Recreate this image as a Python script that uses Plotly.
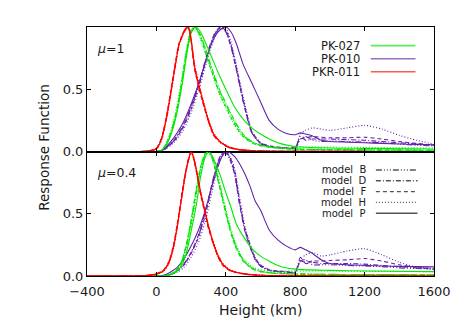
import plotly.graph_objects as go
from plotly.subplots import make_subplots

# ---- data: response functions vs height (km) ----
X_TICKS = [-400, 0, 400, 800, 1200, 1600]
X_TICKTEXT = ["\u2212400", "0", "400", "800", "1200", "1600"]
Y_TICKS = [0.0, 0.5]
Y_TICKTEXT = ["0.0", "0.5"]

MODELS = ["B", "D", "F", "H", "P"]
LINES = ["PK-027", "PK-010", "PKR-011"]

# mu = 1 (top panel)
h_top_red = [-400, -100, -50, 0, 30, 60, 90, 110, 130, 150, 170, 185, 200, 220, 245, 270, 300, 330, 370, 420, 480, 560, 700, 1000, 1600]
top_red_B = [0, 0, 0.004, 0.025, 0.11, 0.29, 0.54, 0.71, 0.86, 0.94, 0.99, 0.99, 0.89, 0.67, 0.52, 0.39, 0.24, 0.13, 0.07, 0.03, 0.013, 0.005, 0.002, 0.001, 0]
top_red_D = [0, 0, 0.003, 0.022, 0.105, 0.29, 0.53, 0.70, 0.85, 0.93, 0.98, 1.00, 0.90, 0.69, 0.53, 0.39, 0.25, 0.14, 0.075, 0.033, 0.014, 0.006, 0.002, 0.001, 0]
top_red_F = [0, 0, 0.004, 0.024, 0.11, 0.30, 0.55, 0.72, 0.87, 0.94, 0.99, 0.99, 0.88, 0.66, 0.51, 0.38, 0.24, 0.13, 0.07, 0.032, 0.013, 0.005, 0.002, 0.001, 0]
top_red_H = [0, 0, 0.002, 0.018, 0.09, 0.27, 0.51, 0.69, 0.85, 0.93, 0.99, 1.00, 0.91, 0.70, 0.55, 0.41, 0.26, 0.15, 0.08, 0.037, 0.016, 0.007, 0.003, 0.001, 0]
top_red_P = [0, 0, 0.003, 0.02, 0.10, 0.28, 0.53, 0.70, 0.86, 0.93, 0.99, 1.00, 0.90, 0.68, 0.53, 0.40, 0.25, 0.14, 0.075, 0.035, 0.015, 0.006, 0.002, 0.001, 0]

h_top_green = [-400, 0, 30, 60, 90, 120, 150, 175, 200, 225, 250, 275, 300, 330, 360, 400, 450, 500, 550, 600, 700, 800, 1000, 1200, 1600]
top_green_B = [0, 0, 0.008, 0.06, 0.17, 0.34, 0.58, 0.80, 0.96, 0.99, 0.94, 0.85, 0.74, 0.62, 0.50, 0.38, 0.24, 0.13, 0.08, 0.05, 0.03, 0.02, 0.016, 0.013, 0.01]
top_green_D = [0, 0, 0.009, 0.065, 0.175, 0.345, 0.59, 0.81, 0.97, 1.00, 0.95, 0.86, 0.75, 0.63, 0.51, 0.39, 0.25, 0.14, 0.08, 0.05, 0.028, 0.02, 0.016, 0.013, 0.01]
top_green_F = [0, 0, 0.01, 0.07, 0.18, 0.35, 0.60, 0.82, 0.97, 1.00, 0.93, 0.83, 0.72, 0.60, 0.48, 0.36, 0.22, 0.12, 0.07, 0.045, 0.025, 0.018, 0.015, 0.012, 0.01]
top_green_H = [0, 0, 0.012, 0.08, 0.20, 0.38, 0.62, 0.84, 0.98, 1.00, 0.92, 0.82, 0.71, 0.59, 0.47, 0.35, 0.21, 0.12, 0.075, 0.05, 0.035, 0.035, 0.035, 0.033, 0.03]
top_green_P = [0, 0, 0.01, 0.06, 0.16, 0.32, 0.55, 0.78, 0.95, 1.00, 0.97, 0.90, 0.82, 0.72, 0.62, 0.50, 0.36, 0.26, 0.19, 0.14, 0.07, 0.04, 0.028, 0.025, 0.02]

h_top_purple = [-400, 0, 25, 50, 100, 150, 200, 250, 300, 340, 370, 400, 430, 460, 500, 550, 600, 650, 700, 750, 800, 830, 860, 900, 950, 1000, 1100, 1200, 1300, 1400, 1500, 1600]
top_purple_B = [0, 0, 0.004, 0.024, 0.085, 0.19, 0.35, 0.56, 0.81, 0.95, 0.99, 0.97, 0.86, 0.67, 0.41, 0.15, 0.06, 0.04, 0.03, 0.025, 0.025, 0.10, 0.12, 0.09, 0.08, 0.085, 0.08, 0.075, 0.07, 0.06, 0.05, 0.045]
top_purple_D = [0, 0, 0.004, 0.025, 0.09, 0.20, 0.36, 0.57, 0.82, 0.96, 1.00, 0.96, 0.84, 0.66, 0.40, 0.15, 0.065, 0.04, 0.03, 0.025, 0.03, 0.12, 0.09, 0.10, 0.10, 0.10, 0.095, 0.09, 0.08, 0.07, 0.06, 0.05]
top_purple_F = [0, 0, 0.003, 0.02, 0.08, 0.18, 0.34, 0.55, 0.80, 0.95, 1.00, 0.97, 0.85, 0.68, 0.42, 0.16, 0.07, 0.045, 0.035, 0.03, 0.04, 0.10, 0.11, 0.12, 0.115, 0.11, 0.11, 0.115, 0.10, 0.08, 0.065, 0.05]
top_purple_H = [0, 0, 0.002, 0.015, 0.07, 0.16, 0.31, 0.52, 0.77, 0.93, 0.99, 0.99, 0.88, 0.70, 0.44, 0.17, 0.07, 0.045, 0.035, 0.03, 0.035, 0.14, 0.17, 0.19, 0.18, 0.17, 0.19, 0.21, 0.18, 0.13, 0.09, 0.06]
top_purple_P = [0, 0, 0.005, 0.03, 0.11, 0.22, 0.38, 0.57, 0.80, 0.93, 0.98, 1.00, 0.96, 0.87, 0.70, 0.55, 0.40, 0.25, 0.18, 0.145, 0.135, 0.15, 0.14, 0.125, 0.09, 0.08, 0.075, 0.07, 0.065, 0.06, 0.057, 0.054]

# mu = 0.4 (bottom panel)
h_bot_red = [-400, -100, -50, 0, 40, 70, 100, 125, 150, 170, 190, 200, 215, 235, 255, 275, 300, 325, 350, 380, 420, 460, 520, 600, 800, 1600]
bot_red_B = [0, 0.002, 0.006, 0.017, 0.045, 0.11, 0.25, 0.45, 0.68, 0.85, 0.96, 0.99, 0.94, 0.81, 0.66, 0.54, 0.39, 0.27, 0.17, 0.095, 0.047, 0.028, 0.014, 0.005, 0.001, 0]
bot_red_D = [0, 0.001, 0.005, 0.016, 0.042, 0.10, 0.24, 0.44, 0.67, 0.84, 0.96, 1.00, 0.95, 0.82, 0.67, 0.55, 0.40, 0.28, 0.18, 0.10, 0.05, 0.03, 0.015, 0.006, 0.001, 0]
bot_red_F = [0, 0.002, 0.006, 0.018, 0.046, 0.11, 0.26, 0.46, 0.69, 0.85, 0.97, 0.99, 0.94, 0.80, 0.65, 0.53, 0.38, 0.27, 0.17, 0.09, 0.045, 0.027, 0.013, 0.005, 0.001, 0]
bot_red_H = [0, 0.001, 0.004, 0.013, 0.037, 0.095, 0.23, 0.43, 0.66, 0.83, 0.95, 1.00, 0.96, 0.83, 0.68, 0.56, 0.41, 0.29, 0.19, 0.105, 0.053, 0.032, 0.016, 0.007, 0.002, 0]
bot_red_P = [0, 0, 0.005, 0.015, 0.04, 0.10, 0.24, 0.44, 0.67, 0.84, 0.96, 1.00, 0.95, 0.82, 0.67, 0.55, 0.40, 0.28, 0.18, 0.10, 0.05, 0.03, 0.015, 0.006, 0.001, 0]

h_bot_green = [-400, 0, 50, 80, 110, 140, 170, 200, 230, 255, 280, 300, 320, 345, 370, 400, 430, 460, 500, 550, 600, 650, 700, 800, 1000, 1200, 1600]
bot_green_B = [0, 0, 0, 0.012, 0.035, 0.09, 0.22, 0.42, 0.67, 0.86, 0.97, 1.00, 0.96, 0.84, 0.70, 0.52, 0.36, 0.24, 0.13, 0.065, 0.04, 0.028, 0.022, 0.016, 0.013, 0.012, 0.01]
bot_green_D = [0, 0, 0, 0.014, 0.038, 0.095, 0.23, 0.44, 0.69, 0.87, 0.98, 0.99, 0.95, 0.83, 0.69, 0.51, 0.35, 0.23, 0.125, 0.062, 0.037, 0.026, 0.021, 0.016, 0.013, 0.012, 0.01]
bot_green_F = [0, 0, 0, 0.015, 0.04, 0.10, 0.24, 0.45, 0.70, 0.88, 0.98, 1.00, 0.95, 0.82, 0.68, 0.50, 0.34, 0.22, 0.12, 0.06, 0.035, 0.025, 0.02, 0.015, 0.012, 0.012, 0.01]
bot_green_H = [0, 0, 0, 0.01, 0.03, 0.08, 0.20, 0.40, 0.64, 0.84, 0.96, 1.00, 0.97, 0.86, 0.72, 0.54, 0.38, 0.25, 0.14, 0.075, 0.05, 0.042, 0.04, 0.04, 0.04, 0.038, 0.035]
bot_green_P = [0, 0, 0, 0.01, 0.03, 0.07, 0.17, 0.36, 0.57, 0.80, 0.95, 1.00, 0.97, 0.89, 0.80, 0.67, 0.55, 0.42, 0.32, 0.22, 0.16, 0.12, 0.085, 0.055, 0.045, 0.04, 0.035]

h_bot_purple = [-400, 0, 40, 80, 120, 160, 200, 240, 280, 320, 350, 375, 400, 425, 450, 480, 510, 540, 570, 600, 650, 700, 750, 800, 830, 860, 900, 950, 1000, 1100, 1200, 1300, 1400, 1500, 1600]
bot_purple_B = [0, 0, 0.002, 0.011, 0.042, 0.095, 0.185, 0.31, 0.49, 0.73, 0.89, 0.97, 1.00, 0.94, 0.83, 0.58, 0.37, 0.24, 0.13, 0.08, 0.045, 0.035, 0.03, 0.025, 0.12, 0.13, 0.09, 0.09, 0.09, 0.085, 0.08, 0.075, 0.065, 0.06, 0.055]
bot_purple_D = [0, 0, 0.002, 0.012, 0.045, 0.10, 0.19, 0.32, 0.50, 0.74, 0.90, 0.98, 0.99, 0.93, 0.82, 0.57, 0.36, 0.23, 0.13, 0.08, 0.045, 0.035, 0.03, 0.03, 0.15, 0.10, 0.11, 0.10, 0.10, 0.10, 0.095, 0.085, 0.075, 0.065, 0.06]
bot_purple_F = [0, 0, 0, 0.01, 0.04, 0.09, 0.18, 0.30, 0.48, 0.72, 0.88, 0.97, 1.00, 0.95, 0.85, 0.60, 0.38, 0.25, 0.14, 0.09, 0.05, 0.04, 0.035, 0.03, 0.12, 0.11, 0.12, 0.12, 0.125, 0.13, 0.14, 0.12, 0.09, 0.07, 0.06]
bot_purple_H = [0, 0, 0, 0.008, 0.03, 0.07, 0.15, 0.26, 0.43, 0.67, 0.85, 0.96, 0.99, 0.96, 0.87, 0.63, 0.40, 0.26, 0.15, 0.09, 0.05, 0.04, 0.035, 0.035, 0.13, 0.17, 0.19, 0.16, 0.17, 0.20, 0.22, 0.17, 0.11, 0.07, 0.05]
bot_purple_P = [0, 0, 0.005, 0.03, 0.07, 0.14, 0.24, 0.36, 0.52, 0.72, 0.86, 0.95, 1.00, 0.99, 0.96, 0.90, 0.82, 0.72, 0.60, 0.53, 0.37, 0.29, 0.24, 0.21, 0.23, 0.21, 0.18, 0.13, 0.10, 0.09, 0.085, 0.08, 0.077, 0.075, 0.073]

# ---- styling ----
_GREEN = "#00e800"
_PURPLE = "#6222aa"
_RED = "#ff0000"
_TEXT = "#1a1a1a"
_FONT = "DejaVu Sans"

_DASH = {
    "B": "6px,2px,1px,2px,1px,2px,1px,2px",
    "D": "5px,2px,1px,2px",
    "F": "4px,3px",
    "H": "1px,2px",
    "P": "solid",
}

panels = [
    (1, [
        (_PURPLE, h_top_purple, [top_purple_B, top_purple_D, top_purple_F, top_purple_H, top_purple_P]),
        (_GREEN, h_top_green, [top_green_B, top_green_D, top_green_F, top_green_H, top_green_P]),
        (_RED, h_top_red, [top_red_B, top_red_D, top_red_F, top_red_H, top_red_P]),
    ]),
    (2, [
        (_PURPLE, h_bot_purple, [bot_purple_B, bot_purple_D, bot_purple_F, bot_purple_H, bot_purple_P]),
        (_GREEN, h_bot_green, [bot_green_B, bot_green_D, bot_green_F, bot_green_H, bot_green_P]),
        (_RED, h_bot_red, [bot_red_B, bot_red_D, bot_red_F, bot_red_H, bot_red_P]),
    ]),
]

fig = make_subplots(rows=2, cols=1, shared_xaxes=True, vertical_spacing=0)

for row, groups in panels:
    for color, xs, curves in groups:
        for model, ys in zip(MODELS, curves):
            fig.add_trace(go.Scatter(
                x=xs, y=ys, mode="lines",
                line=dict(color=color, width=1.1, dash=_DASH[model],
                          shape="spline", smoothing=0.6),
                showlegend=False, hoverinfo="skip",
            ), row=row, col=1)

# ---- legends drawn as text + short lines ----
annotations = []
shapes = []
for label, color, yv in zip(LINES, [_GREEN, _PURPLE, _RED], [0.85, 0.745, 0.64]):
    annotations.append(dict(
        x=1185, y=yv, xref="x", yref="y", text=label, showarrow=False,
        xanchor="right", yanchor="middle",
        font=dict(family=_FONT, size=11.5, color=_TEXT),
    ))
    shapes.append(dict(
        type="line", xref="x", yref="y", x0=1236, x1=1493, y0=yv, y1=yv,
        line=dict(color=color, width=1.6), opacity=0.65,
    ))

for model, yv in zip(MODELS, [0.852, 0.765, 0.678, 0.591, 0.504]):
    annotations.append(dict(
        x=1222, y=yv, xref="x2", yref="y2", text=f"model  {model}", showarrow=False,
        xanchor="right", yanchor="middle",
        font=dict(family=_FONT, size=10, color=_TEXT),
    ))
    shapes.append(dict(
        type="line", xref="x2", yref="y2", x0=1265, x1=1505, y0=yv, y1=yv,
        line=dict(color="#555555", width=1.4, dash=_DASH[model]),
    ))

annotations += [
    dict(x=-355, y=0.83, xref="x", yref="y", text="<i>\u03bc</i>=1", showarrow=False,
         xanchor="left", yanchor="middle", font=dict(family=_FONT, size=12.5, color=_TEXT)),
    dict(x=-355, y=0.835, xref="x2", yref="y2", text="<i>\u03bc</i>=0.4", showarrow=False,
         xanchor="left", yanchor="middle", font=dict(family=_FONT, size=12.5, color=_TEXT)),
    dict(x=-0.126, y=0.516, xref="paper", yref="paper", text="Response Function",
         showarrow=False, textangle=-90, xanchor="center", yanchor="middle",
         font=dict(family=_FONT, size=13.5, color=_TEXT)),
    dict(x=0.5, y=-0.138, xref="paper", yref="paper", text="Height (km)",
         showarrow=False, xanchor="center", yanchor="middle",
         font=dict(family=_FONT, size=14, color=_TEXT)),
]

# the page body adds an 8px offset, so the figure is sized to the remaining window
fig.update_layout(
    width=455, height=323,
    margin=dict(l=79, r=26, t=19, b=55),
    paper_bgcolor="white", plot_bgcolor="white",
    font=dict(family=_FONT, size=13, color=_TEXT),
    annotations=annotations, shapes=shapes,
    showlegend=False,
)
fig.update_xaxes(
    range=[-400, 1600], tickvals=X_TICKS, ticktext=X_TICKTEXT,
    ticks="inside", ticklen=4, tickcolor="black", mirror="ticks",
    showline=True, linecolor="black", linewidth=1,
    showgrid=False, zeroline=False, ticklabelstandoff=3,
    tickfont=dict(family=_FONT, size=13, color=_TEXT),
)
fig.update_yaxes(
    range=[0, 1.0], tickvals=Y_TICKS, ticktext=Y_TICKTEXT,
    ticks="inside", ticklen=4, tickcolor="black", mirror="ticks",
    showline=True, linecolor="black", linewidth=1,
    showgrid=False, zeroline=False,
    tickfont=dict(family=_FONT, size=13, color=_TEXT),
)

fig.write_html("out.html")
